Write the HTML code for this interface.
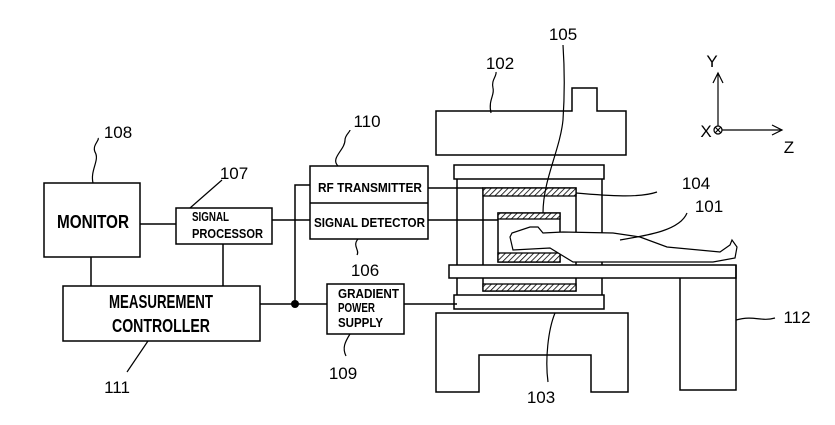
<!DOCTYPE html>
<html><head><meta charset="utf-8"><style>body{margin:0;background:#fff}svg{display:block}</style></head><body>
<svg width="835" height="425" viewBox="0 0 835 425" xmlns="http://www.w3.org/2000/svg" font-family="Liberation Sans, sans-serif">
<defs>
<pattern id="h" width="4" height="4" patternUnits="userSpaceOnUse" patternTransform="rotate(45)"><rect width="4" height="4" fill="#fff"/><line x1="0" y1="0" x2="0" y2="4" stroke="#000" stroke-width="1.6"/></pattern>
</defs>
<g fill="none" stroke="#000" stroke-width="1.5">
<rect x="44" y="183" width="96" height="74"/>
<rect x="176" y="208" width="96" height="36"/>
<rect x="63" y="286" width="197" height="55"/>
<rect x="310" y="166" width="118" height="73"/>
<line x1="310" y1="203" x2="428" y2="203"/>
<rect x="327" y="284" width="77" height="50"/>
<line x1="140" y1="224" x2="176" y2="224"/>
<line x1="91" y1="257" x2="91" y2="286"/>
<line x1="223" y1="244" x2="223" y2="286"/>
<line x1="272" y1="220" x2="310" y2="220"/>
<polyline points="310,185 295,185 295,304"/>
<line x1="260" y1="304" x2="327" y2="304"/>
<line x1="404" y1="304" x2="457" y2="304"/>
<line x1="428" y1="188" x2="483" y2="188"/>
<line x1="428" y1="220" x2="498" y2="220"/>
<polygon points="436,111 572,111 572,88 597,88 597,111 626,111 626,155 436,155"/>
<rect x="454" y="165" width="150" height="14"/>
<line x1="457" y1="179" x2="457" y2="295"/>
<line x1="602" y1="179" x2="602" y2="295"/>
<rect x="454" y="295" width="150" height="14"/>
<rect x="483" y="188" width="93" height="103"/>
<rect x="498" y="213" width="62" height="49"/>
<rect x="449" y="265" width="287" height="13" fill="#fff"/>
<polyline points="680,278 680,390 736,390 736,265"/>
<polygon points="436,313 628,313 628,392 591,392 591,355 479,355 479,392 436,392"/>
</g>
<g stroke="#000" stroke-width="1.3" fill="url(#h)">
<rect x="483" y="188" width="93" height="8"/>
<rect x="483" y="284" width="93" height="7"/>
<rect x="498" y="213" width="62" height="6"/>
<rect x="498" y="253" width="62" height="9"/>
</g>
<path d="M510,237 L512,233 L530,227 L538,227 L543,233 L563,232 L613,233 L640,237 L667,247 L720,252 L730,245 L732,240 L737,247 L735,258 L713,262 L647,262 L573,262 L550,248 L513,250 Z" fill="#fff" stroke="#000" stroke-width="1.2"/>
<circle cx="295" cy="304" r="4" fill="#000"/>
<g fill="none" stroke="#000" stroke-width="1.2">
<path d="M93,183 C90,170 100,160 95,152 C92,145 100,140 98,138"/>
<path d="M190,208 L222,180"/>
<path d="M338,166 C330,158 345,150 345,140 C345,135 350,132 350,130"/>
<path d="M358,239 C352,246 360,250 357,255"/>
<path d="M350,334 C345,342 342,348 346,356"/>
<path d="M148,341 L127,372"/>
<path d="M491,113 C488,100 495,95 493,88 C491,80 497,76 496,72"/>
<path d="M543,213 C543,180 560,150 563,120 C565,90 564,60 563,45"/>
<path d="M576,193 C610,196 640,198 657,192"/>
<path d="M620,240 C650,235 680,230 687,213"/>
<path d="M555,313 C548,330 545,360 548,382"/>
<path d="M736,320 C755,315 760,322 775,318"/>
<line x1="718" y1="126" x2="718" y2="73"/>
<polyline points="713,83 718,73 723,83"/>
<line x1="722" y1="130" x2="782" y2="130"/>
<polyline points="772,125 782,130 772,135"/>
<circle cx="718" cy="130" r="4"/>
<path d="M715,127 L721,133 M721,127 L715,133"/>
</g>
<g font-size="17" fill="#000" text-anchor="middle">
<text x="118" y="138">108</text>
<text x="234" y="179">107</text>
<text x="367" y="127">110</text>
<text x="365" y="276">106</text>
<text x="343" y="379">109</text>
<text x="117" y="393">111</text>
<text x="500" y="69">102</text>
<text x="563" y="40">105</text>
<text x="696" y="189">104</text>
<text x="709" y="212">101</text>
<text x="541" y="403">103</text>
<text x="797" y="323">112</text>
<text x="712" y="67">Y</text>
<text x="706" y="137">X</text>
<text x="789" y="153">Z</text>
</g>
<g font-weight="bold" fill="#000">
<text x="57" y="228" font-size="18" textLength="72" lengthAdjust="spacingAndGlyphs">MONITOR</text>
<text x="192" y="221" font-size="12.5" textLength="37" lengthAdjust="spacingAndGlyphs">SIGNAL</text>
<text x="192" y="238" font-size="12.5" textLength="71" lengthAdjust="spacingAndGlyphs">PROCESSOR</text>
<text x="109" y="308" font-size="18" textLength="104" lengthAdjust="spacingAndGlyphs">MEASUREMENT</text>
<text x="112" y="332" font-size="18" textLength="98" lengthAdjust="spacingAndGlyphs">CONTROLLER</text>
<text x="318" y="192" font-size="13" textLength="104" lengthAdjust="spacingAndGlyphs">RF TRANSMITTER</text>
<text x="314" y="227" font-size="13" textLength="111" lengthAdjust="spacingAndGlyphs">SIGNAL DETECTOR</text>
<text x="338" y="298" font-size="12.5" textLength="61" lengthAdjust="spacingAndGlyphs">GRADIENT</text>
<text x="338" y="312" font-size="12.5" textLength="37" lengthAdjust="spacingAndGlyphs">POWER</text>
<text x="338" y="327" font-size="12.5" textLength="45" lengthAdjust="spacingAndGlyphs">SUPPLY</text>
</g>
</svg>
</body></html>
